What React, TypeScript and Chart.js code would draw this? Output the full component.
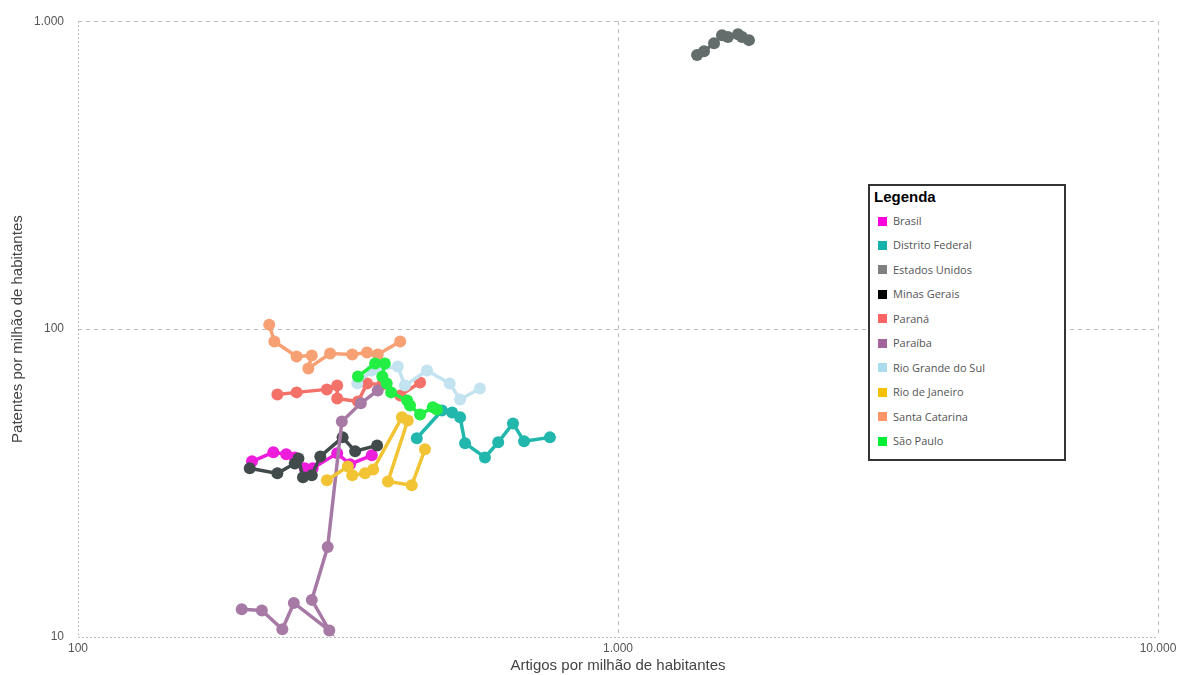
import React, { useEffect, useRef } from "react";
import { Chart, registerables } from "chart.js";

Chart.register(...registerables);

const seriesNames = [
  "Brasil",
  "Distrito Federal",
  "Estados Unidos",
  "Minas Gerais",
  "Paraná",
  "Paraíba",
  "Rio Grande do Sul",
  "Rio de Janeiro",
  "Santa Catarina",
  "São Paulo",
];

const lineColors = [
  "#ee1ddc",
  "#22b7ad",
  "#636d6c",
  "#414b4b",
  "#f4716a",
  "#a77aa6",
  "#c2e3ef",
  "#f2c433",
  "#f7a073",
  "#22ee44",
];

const legendColors = [
  "#ff00dd",
  "#14b2aa",
  "#808080",
  "#000000",
  "#ff6464",
  "#a0649a",
  "#aadcee",
  "#f5c000",
  "#ff9466",
  "#00ee33",
];

const brasilX = [210, 230, 243, 252, 263, 272, 302, 319, 350];
const brasilY = [37.2, 39.8, 39.2, 38.3, 35.3, 35.3, 39.5, 36.4, 38.9];

const distritoFederalX = [424, 472, 493, 510, 521, 567, 600, 639, 670, 748];
const distritoFederalY = [44.2, 54.4, 53.6, 51.7, 42.6, 38.3, 42.9, 49.4, 43.2, 44.5];

const estadosUnidosX = [1401, 1443, 1506, 1558, 1598, 1668, 1697, 1748];
const estadosUnidosY = [776, 799, 848, 901, 888, 907, 888, 868];

const minasGeraisX = [208, 234, 252, 256, 261, 271, 281, 309, 326, 358];
const minasGeraisY = [35.3, 34.0, 36.6, 38.0, 33.0, 33.5, 38.6, 44.5, 40.1, 41.9];

const paranaX = [234, 254, 289, 302, 302, 330, 343, 366, 395, 430];
const paranaY = [61.3, 62.3, 63.7, 65.6, 59.5, 58.2, 66.6, 66.1, 60.9, 67.1];

const paraibaX = [201, 219, 239, 251, 292, 271, 290, 308, 334, 359];
const paraibaY = [12.3, 12.2, 10.6, 12.9, 10.5, 13.2, 19.6, 50.1, 57.4, 63.2];

const rioGrandeDoSulX = [329, 350, 391, 403, 443, 488, 510, 555];
const rioGrandeDoSulY = [66.6, 73.4, 75.6, 65.6, 73.4, 66.6, 59.1, 64.1];

const rioDeJaneiroX = [289, 316, 322, 340, 352, 398, 408, 375, 415, 439];
const rioDeJaneiroY = [32.3, 35.8, 33.5, 34.0, 35.0, 51.7, 50.5, 32.0, 31.1, 40.7];

const santaCatarinaX = [226, 231, 254, 271, 267, 293, 322, 343, 359, 395];
const santaCatarinaY = [103.4, 91.1, 81.5, 82.1, 74.5, 83.3, 82.7, 83.9, 82.7, 91.1];

const saoPauloX = [330, 355, 370, 366, 373, 380, 407, 412, 430, 454, 462];
const saoPauloY = [70.2, 77.3, 77.3, 70.2, 66.6, 62.3, 58.6, 56.5, 52.8, 55.7, 54.8];

const seriesX = [
  brasilX,
  distritoFederalX,
  estadosUnidosX,
  minasGeraisX,
  paranaX,
  paraibaX,
  rioGrandeDoSulX,
  rioDeJaneiroX,
  santaCatarinaX,
  saoPauloX,
];
const seriesY = [
  brasilY,
  distritoFederalY,
  estadosUnidosY,
  minasGeraisY,
  paranaY,
  paraibaY,
  rioGrandeDoSulY,
  rioDeJaneiroY,
  santaCatarinaY,
  saoPauloY,
];

const xTicks = [100, 1000, 10000];
const yTicks = [10, 100, 1000];
const xTitle = "Artigos por milhão de habitantes";
const yTitle = "Patentes por milhão de habitantes";
const legendTitle = "Legenda";

function fmt(v: number): string {
  return String(Math.round(v)).replace(/\B(?=(\d{3})+(?!\d))/g, ".");
}

const axisFont = "'Liberation Sans', Arial, sans-serif";
const gridColor = "#bdbdbd";

export default function App() {
  const canvasRef = useRef<HTMLCanvasElement | null>(null);

  useEffect(() => {
    if (!canvasRef.current) return;
    const datasets = seriesNames.map((name, i) => ({
      label: name,
      data: seriesX[i].map((x, j) => ({ x, y: seriesY[i][j] })),
      showLine: true,
      borderColor: lineColors[i],
      backgroundColor: lineColors[i],
      pointBackgroundColor: lineColors[i],
      pointBorderColor: lineColors[i],
      pointBorderWidth: 0,
      pointRadius: 6,
      borderWidth: 3.5,
      tension: 0,
      order: -i,
    }));

    const dashFor = (minVal: number) => (ctx: any) =>
      ctx && ctx.tick && ctx.tick.value === minVal ? [2, 2] : [4, 4];

    const chart = new Chart(canvasRef.current, {
      type: "scatter",
      data: { datasets },
      options: {
        animation: false,
        responsive: false,
        maintainAspectRatio: false,
        layout: { padding: { top: 20, right: 23, left: 0, bottom: 0 } },
        plugins: {
          legend: { display: false },
          tooltip: { enabled: false },
        },
        scales: {
          x: {
            type: "logarithmic",
            position: "bottom",
            min: 100,
            max: 10000,
            afterBuildTicks: (s: any) => {
              s.ticks = xTicks.map((v) => ({ value: v }));
            },
            afterFit: (s: any) => {
              s.height = 38;
            },
            ticks: {
              callback: (v: any) => fmt(Number(v)),
              color: "#555",
              font: { family: axisFont, size: 12 },
              padding: 4,
              autoSkip: false,
              maxRotation: 0,
            },
            grid: {
              color: gridColor,
              lineWidth: 1,
              drawTicks: false,
            },
            border: { display: false, color: gridColor, dash: dashFor(100) } as any,
            title: {
              display: true,
              text: xTitle,
              color: "#444",
              font: { family: axisFont, size: 15 },
              padding: { top: 0, bottom: 0 },
            },
          },
          y: {
            type: "logarithmic",
            position: "left",
            min: 10,
            max: 1000,
            afterBuildTicks: (s: any) => {
              s.ticks = yTicks.map((v) => ({ value: v }));
            },
            afterFit: (s: any) => {
              s.width = 78;
            },
            ticks: {
              callback: (v: any) => fmt(Number(v)),
              color: "#555",
              font: { family: axisFont, size: 12 },
              padding: 14,
              autoSkip: false,
            },
            grid: {
              color: gridColor,
              lineWidth: 1,
              drawTicks: false,
            },
            border: { display: false, color: gridColor, dash: dashFor(10) } as any,
            title: {
              display: true,
              text: yTitle,
              color: "#444",
              font: { family: axisFont, size: 15 },
              padding: { top: 9, bottom: 0 },
            },
          },
        },
      },
    });
    return () => chart.destroy();
  }, []);

  const rowTop = 221;
  const rowStep = 24.45;

  return (
    <div
      style={{
        position: "fixed",
        left: 0,
        top: 0,
        width: 1181,
        height: 675,
        background: "#fff",
        overflow: "hidden",
      }}
    >
      <canvas
        ref={canvasRef}
        width={1181}
        height={675}
        style={{ width: 1181, height: 675, display: "block" }}
      />
      <div
        style={{
          position: "absolute",
          left: 868,
          top: 184,
          width: 194,
          height: 273,
          border: "2px solid #333",
          background: "#fff",
        }}
      >
        <div
          style={{
            position: "absolute",
            left: 4,
            top: 3,
            fontFamily: axisFont,
            fontWeight: "bold",
            fontSize: 15,
            color: "#000",
            lineHeight: "16px",
          }}
        >
          {legendTitle}
        </div>
        {seriesNames.map((name, i) => {
          const cy = rowTop + i * rowStep - 186;
          return (
            <div
              key={name}
              style={{
                position: "absolute",
                left: 8,
                top: cy - 8,
                height: 16,
                display: "flex",
                alignItems: "center",
                whiteSpace: "nowrap",
              }}
            >
              <span
                style={{
                  display: "inline-block",
                  width: 9,
                  height: 9,
                  background: legendColors[i],
                  marginRight: 6,
                }}
              />
              <span
                style={{
                  fontFamily: "'Open Sans', 'Noto Sans', sans-serif",
                  fontSize: 11,
                  color: "#555",
                  lineHeight: "16px",
                }}
              >
                {name}
              </span>
            </div>
          );
        })}
      </div>
    </div>
  );
}
